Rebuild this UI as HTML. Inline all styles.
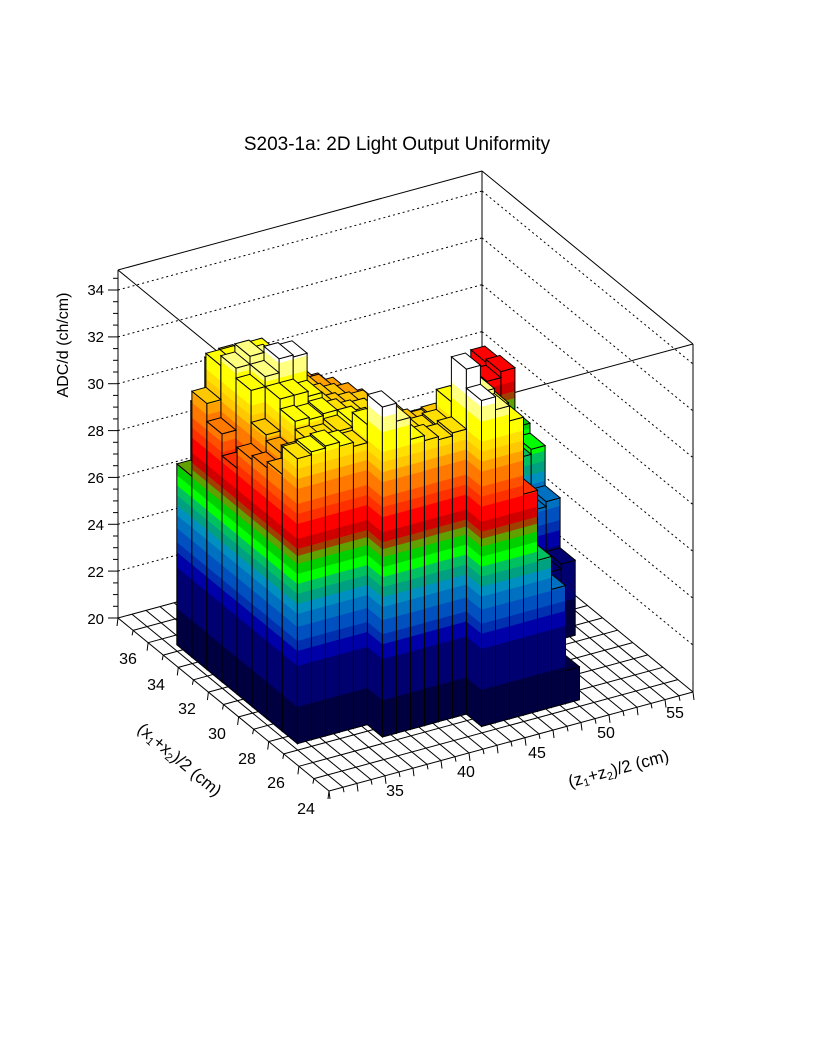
<!DOCTYPE html>
<html><head><meta charset="utf-8">
<style>
html,body{margin:0;padding:0;background:#fff;}
svg{display:block;}
text{font-family:"Liberation Sans",sans-serif;fill:#000;}
</style></head>
<body>
<svg id="s" width="816" height="1056" viewBox="0 0 816 1056" xmlns="http://www.w3.org/2000/svg">
<rect width="816" height="1056" fill="#fff"/>
<g id="frame"></g>
<g id="bars"></g>
<text x="397" y="150" font-size="19" text-anchor="middle">S203-1a: 2D Light Output Uniformity</text>
<g font-size="15" text-anchor="end">
<text x="104" y="624">20</text>
<text x="104" y="577">22</text>
<text x="104" y="530">24</text>
<text x="104" y="483">26</text>
<text x="104" y="436">28</text>
<text x="104" y="389">30</text>
<text x="104" y="342">32</text>
<text x="104" y="295">34</text>
</g>
<text x="0" y="0" font-size="16" text-anchor="middle" transform="translate(68,345) rotate(-90)">ADC/d (ch/cm)</text>
<g font-size="16" text-anchor="middle">
<text x="395" y="796">35</text>
<text x="466" y="777">40</text>
<text x="537" y="758">45</text>
<text x="606" y="738">50</text>
<text x="675" y="718">55</text>
<text x="128" y="664">36</text>
<text x="156" y="690">34</text>
<text x="187" y="714">32</text>
<text x="217" y="739">30</text>
<text x="247" y="764">28</text>
<text x="276" y="788">26</text>
<text x="306" y="814">24</text>
</g>
<text x="0" y="0" font-size="17" text-anchor="middle" transform="translate(620,774) rotate(-15)">(z<tspan font-size="11" dy="3">1</tspan><tspan dy="-3">+z</tspan><tspan font-size="11" dy="3">2</tspan><tspan dy="-3">)/2 (cm)</tspan></text>
<text x="0" y="0" font-size="17" text-anchor="middle" transform="translate(176,764) rotate(40)">(x<tspan font-size="11" dy="3">1</tspan><tspan dy="-3">+x</tspan><tspan font-size="11" dy="3">2</tspan><tspan dy="-3">)/2 (cm)</tspan></text>
</svg>
<script>
(function(){
var ax=14, ay=-99/26, bx=-211/14, by=-173/14;
function P(i,j,h){return [329+ax*i+bx*j, 791+ay*i+by*j-h];}
function pts(a){return a.map(function(p){return p[0].toFixed(1)+','+p[1].toFixed(1);}).join(' ');}
var f='';
var H=348;
var L=P(0,14,0),F=P(0,0,0),R=P(26,0,0),B=P(26,14,0);
function line(p,q,ex){f+='<line x1="'+p[0].toFixed(1)+'" y1="'+p[1].toFixed(1)+'" x2="'+q[0].toFixed(1)+'" y2="'+q[1].toFixed(1)+'" stroke="#000" stroke-width="1" '+(ex||'')+'/>';}
function up(p,h){return [p[0],p[1]-h];}
for(var j=0;j<=14;j++){line(P(0,j,0),P(26,j,0));}
for(var i=0;i<=26;i++){line(P(i,0,0),P(i,14,0));}
var pu=(617-289)/14;
for(var z=22;z<=34;z+=2){var h=(z-20)*pu;line(up(L,h),up(B,h),'stroke-dasharray="2,3"');line(up(B,h),up(R,h),'stroke-dasharray="2,3"');}
line(L,up(L,H));line(B,up(B,H));line(R,up(R,H));
line(up(L,H),up(B,H));line(up(B,H),up(R,H));
line(up(L,H),up(F,H));line(up(R,H),up(F,H));
for(var t=0;t<=29;t++){var h=t*pu/2; if(h>H)break; var len=(t%4==0)?10:5; line([L[0],L[1]-h],[L[0]-len,L[1]-h]);}
for(var i=0;i<=26;i++){var p=P(i,0,0);var len=(i%2==0)?8:5;line(p,[p[0]+1,p[1]+len]);}
for(var j=0;j<=14;j++){var p=P(0,j,0);var len=(j%2==0)?8:5;line(p,[p[0]-1,p[1]+len]);}
document.getElementById('frame').innerHTML=f;

var bands=[[0,'#000040'],[37,'#000070'],[78,'#0000a8'],[93,'#0030b0'],[103,'#0050c0'],[117,'#0070c0'],[130,'#0090c0'],[140,'#00a080'],[150,'#00c060'],[160,'#00ff00'],[170,'#00d000'],[180,'#60a000'],[188,'#a04000'],[195,'#d00000'],[205,'#ff0000'],[220,'#ff3000'],[230,'#ff5000'],[240,'#ff7800'],[255,'#ffa000'],[265,'#ffc800'],[275,'#ffe000'],[285,'#ffff00'],[305,'#ffff80'],[320,'#ffffff']];
function col(h){var c=bands[0][1];for(var n=0;n<bands.length;n++){if(h>=bands[n][0])c=bands[n][1];}return c;}
var T=[
[-1,-1,285,257,251,247,226,248,266,181],
[-1,-1,288,270,262,268,300,310,300,240],
[-1,-1,290,282,290,300,310,318,300,280],
[-1,-1,286,280,288,300,324,310,300,285],
[-1,-1,282,285,290,295,322,305,300,280],
[-1,330,300,290,285,280,278,275,268,255],
[-1,312,290,285,280,275,272,270,265,250],
[-1,290,285,282,278,272,268,265,258,245],
[-1,285,280,278,275,270,265,258,250,240],
[-1,282,278,272,268,262,255,245,235,225],
[-1,285,280,268,255,240,220,200,185,175],
[326,345,300,270,245,220,200,185,175,165],
[313,318,290,260,235,205,190,180,170,160],
[298,300,280,250,220,195,180,175,165,160],
[221,235,245,240,225,200,185,175,165,160],
[151,170,200,215,215,200,185,175,170,165],
[118,130,150,170,185,180,175,175,175,170],
[33,61,100,125,150,160,165,170,175,170],
[-1,-1,-1,-1,60,100,140,160,165,160],
[-1,-1,-1,-1,60,110,150,165,190,175],
[-1,-1,-1,-1,70,120,160,170,212,205],
[-1,-1,-1,-1,75,125,165,175,218,215]];
var list=[];
for(var k=0;k<T.length;k++)for(var m=0;m<10;m++)if(T[k][m]>0)list.push([k,m,T[k][m]]);
list.sort(function(a,b){return (b[0]+b[1])-(a[0]+a[1]) || b[0]-a[0];});
var s='';
function face(p0,p1,h){
  var out='';
  for(var n=0;n<bands.length;n++){
    var lo=bands[n][0]; if(lo>=h)break;
    var hi=(n+1<bands.length)?Math.min(bands[n+1][0],h):h;
    var q=[[p0[0],p0[1]-lo],[p1[0],p1[1]-lo],[p1[0],p1[1]-hi],[p0[0],p0[1]-hi]];
    out+='<polygon points="'+pts(q)+'" fill="'+bands[n][1]+'" stroke="'+bands[n][1]+'" stroke-width="0.6"/>';
  }
  var q=[p0,p1,[p1[0],p1[1]-h],[p0[0],p0[1]-h]];
  out+='<polygon points="'+pts(q)+'" fill="none" stroke="#000" stroke-width="1"/>';
  return out;
}
list.forEach(function(b){
  var i0=1.4+b[0],i1=i0+1,j0=1.4+b[1],j1=j0+1,h=b[2];
  s+=face(P(i0,j1,0),P(i0,j0,0),h);
  s+=face(P(i0,j0,0),P(i1,j0,0),h);
  var top=[P(i0,j0,h),P(i1,j0,h),P(i1,j1,h),P(i0,j1,h)];
  s+='<polygon points="'+pts(top)+'" fill="'+col(h-1)+'" stroke="#000" stroke-width="1"/>';
});
document.getElementById('bars').innerHTML=s;
})();
</script>
</body></html>
